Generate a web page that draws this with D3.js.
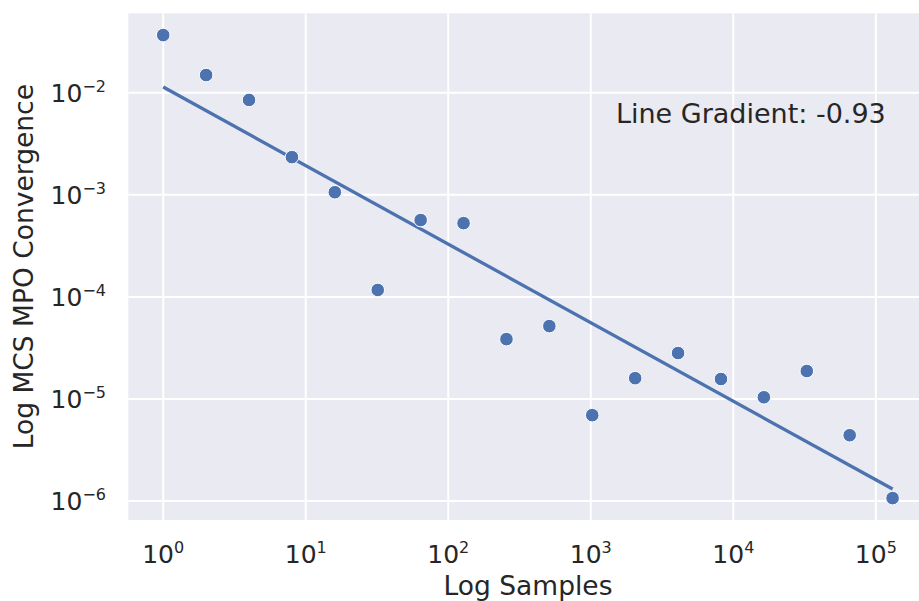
<!DOCTYPE html>
<html lang="en">
<head>
  <meta charset="UTF-8">
  <title>Log MCS MPO Convergence</title>
  <script src="https://cdn.jsdelivr.net/npm/d3@7"></script>
  <style>
    html, body { margin: 0; padding: 0; background: #fff; overflow: hidden; }
    text { font-family: 'DejaVu Sans', sans-serif; fill: #262626; }
  </style>
</head>
<body>
<script>
  // samples (2^0 .. 2^17) and convergence values
  const samples = [1, 2, 4, 8, 16, 32, 64, 128, 256, 512, 1024, 2048, 4096, 8192, 16384, 32768, 65536, 131072];
  const convergence = [0.0367, 0.0149, 0.0085, 0.00234, 0.00106, 1.17e-4, 5.66e-4, 5.28e-4, 3.86e-5, 5.18e-5,
    6.95e-6, 1.60e-5, 2.82e-5, 1.57e-5, 1.04e-5, 1.88e-5, 4.42e-6, 1.07e-6];
  const xTicks = [1e0, 1e1, 1e2, 1e3, 1e4, 1e5];
  const yTicks = [1e-6, 1e-5, 1e-4, 1e-3, 1e-2];
  const gradientLabel = 'Line Gradient: -0.93';
  const labelAt = [1500, 0.005];

  const width = 919;
  const height = 601;
  const margin = {top: 13.3, right: -10, bottom: 81, left: 128.3};
  const blue = '#4c72b0';

  const x = d3.scaleLog()
    .domain([Math.pow(10, -0.245), Math.pow(10, 5.373)])
    .range([margin.left, width - margin.right]);

  const y = d3.scaleLog()
    .domain([Math.pow(10, -6.185), Math.pow(10, -1.222)])
    .range([height - margin.bottom, margin.top]);

  const svg = d3.select('body').append('svg').attr('width', width).attr('height', height);

  svg.append('rect')
    .attr('x', margin.left).attr('y', margin.top)
    .attr('width', width - margin.right - margin.left)
    .attr('height', height - margin.bottom - margin.top)
    .attr('fill', '#eaeaf2');

  // grid
  const grid = svg.append('g').attr('stroke', '#fff').attr('stroke-width', 2);
  grid.selectAll('.gx').data(xTicks).join('line')
    .attr('x1', d => x(d)).attr('x2', d => x(d))
    .attr('y1', margin.top).attr('y2', height - margin.bottom);
  grid.selectAll('.gy').data(yTicks).join('line')
    .attr('y1', d => y(d)).attr('y2', d => y(d))
    .attr('x1', margin.left).attr('x2', width - margin.right);

  const exp = d => Math.round(Math.log10(d)).toString().replace('-', '\u2212');

  // x tick labels
  const xLab = svg.append('g').selectAll('text').data(xTicks).join('text')
    .attr('x', d => x(d)).attr('y', 563)
    .attr('text-anchor', 'middle')
    .style('font-size', '25px');
  xLab.append('tspan').text('10');
  xLab.append('tspan').attr('dy', -10).style('font-size', '16px').text(exp);

  // y tick labels
  const yLab = svg.append('g').selectAll('text').data(yTicks).join('text')
    .attr('x', 106).attr('y', d => y(d) + 9)
    .attr('text-anchor', 'end')
    .style('font-size', '25px');
  yLab.append('tspan').text('10');
  yLab.append('tspan').attr('dy', -10).style('font-size', '16px').text(exp);

  // axis titles
  svg.append('text')
    .attr('x', 528).attr('y', 595)
    .attr('text-anchor', 'middle')
    .style('font-size', '26.5px')
    .text('Log Samples');
  svg.append('text')
    .attr('transform', `translate(33,${(margin.top + height - margin.bottom) / 2}) rotate(-90)`)
    .attr('text-anchor', 'middle')
    .style('font-size', '26.5px')
    .text('Log MCS MPO Convergence');

  // least squares fit in log-log space
  const lx = samples.map(Math.log10);
  const ly = convergence.map(Math.log10);
  const mx = d3.mean(lx), my = d3.mean(ly);
  const slope = d3.sum(lx, (v, i) => (v - mx) * (ly[i] - my)) / d3.sum(lx, v => (v - mx) * (v - mx));
  const icept = my - slope * mx;
  const fit = d3.extent(samples).map(s => [s, Math.pow(10, icept + slope * Math.log10(s))]);

  svg.append('path')
    .datum(fit)
    .attr('fill', 'none')
    .attr('stroke', blue)
    .attr('stroke-width', 3.3)
    .attr('d', d3.line().x(d => x(d[0])).y(d => y(d[1])));

  // points
  svg.append('g').selectAll('circle').data(samples).join('circle')
    .attr('cx', d => x(d))
    .attr('cy', (d, i) => y(convergence[i]))
    .attr('r', 6.8)
    .attr('fill', blue)
    .attr('stroke', '#fff')
    .attr('stroke-width', 1);

  svg.append('text')
    .attr('x', x(labelAt[0])).attr('y', y(labelAt[1]))
    .style('font-size', '27px')
    .text(gradientLabel);
</script>
</body>
</html>
